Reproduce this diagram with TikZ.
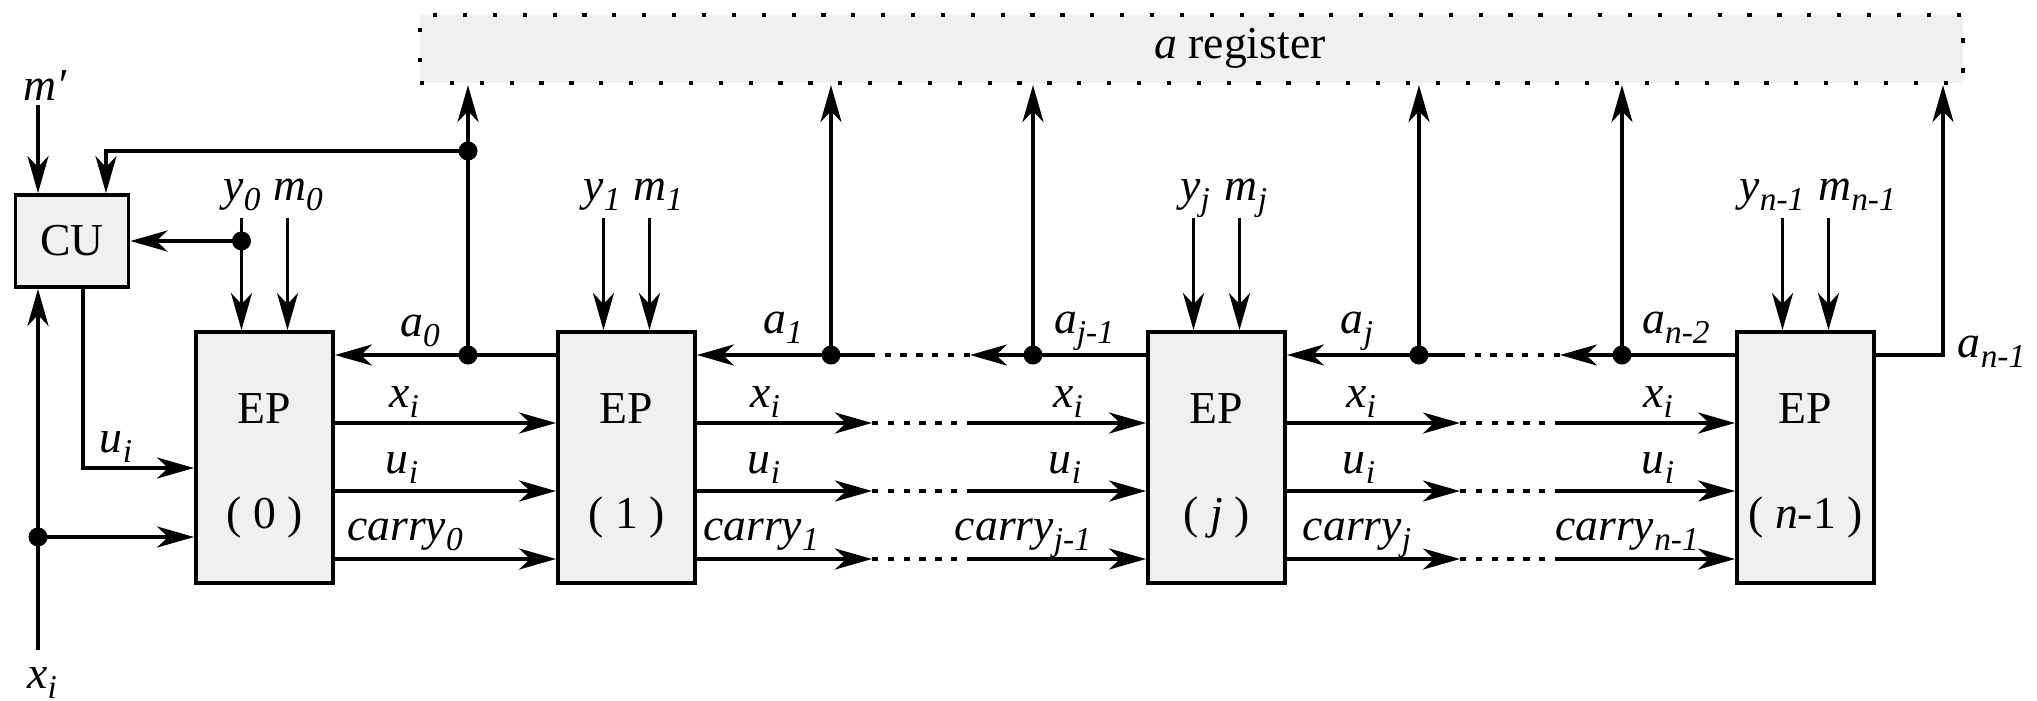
\documentclass[tikz,border=0pt]{standalone}
\usepackage{fontspec}
\setmainfont{LiberationSerif}[Extension=.ttf,UprightFont=*-Regular,BoldFont=*-Bold,
  ItalicFont=*-Italic,BoldItalicFont=*-BoldItalic]
\usepackage{tikz}
\usetikzlibrary{arrows.meta}

\definecolor{epgray}{gray}{0.94}
\newcommand{\sig}[2]{\textit{#1}\raisebox{-0.1cm}{\fontsize{9.5}{10}\selectfont\textit{#2}}}
\newcommand{\eptext}[1]{\rule{0pt}{0.47cm}EP\\[0.49cm]( #1 )}

\begin{document}
\begin{tikzpicture}[->,>={Stealth[length=3.7mm,width=2.1mm,inset=1.1mm]},
                    line width=1.1pt,font=\fontsize{13}{16}\selectfont]

  \tikzstyle{unit}=[draw,fill=epgray,line width=1.1pt,inner sep=0pt]
  \tikzstyle{ep}=[unit,minimum width=1.37cm,minimum height=2.51cm,align=center]
  \tikzstyle{lab}=[anchor=base,inner sep=0pt]
  \tikzstyle{gap}=[-,dash pattern=on 1.8pt off 2.7pt]

  \useasboundingbox (0,0) rectangle (20.37,7);

  \node[unit,line width=1.2pt,dash pattern=on 1.2pt off 7.3pt,
        minimum width=15.43cm,minimum height=0.68cm] (reg) at (11.915,6.51) {};
  \node[lab] (regname) at (12.40,6.42) {\textit{a} register};

  \node[unit,minimum width=1.13cm,minimum height=0.92cm] (cu) at (0.72,4.59) {CU};
  \node[ep] (ep0) at (2.645,2.425) {\eptext{0}};
  \node[ep] (ep1) at (6.265,2.425) {\eptext{1}};
  \node[ep] (epj) at (12.165,2.425) {\eptext{\textit{j}}};
  \node[ep] (epn) at (18.055,2.425) {\eptext{\textit{n}-1}};

  % rows and the ends of the dotted gaps
  \coordinate (ra) at (0,3.45);
  \coordinate (rx) at (0,2.77);
  \coordinate (ru) at (0,2.09);
  \coordinate (rc) at (0,1.41);
  \coordinate (g1) at (8.72,0);
  \coordinate (g2) at (9.70,0);
  \coordinate (g3) at (14.60,0);
  \coordinate (g4) at (15.60,0);

  % taps on the a bus
  \coordinate (t0) at (4.68,3.45);
  \coordinate (t1) at (8.31,3.45);
  \coordinate (t2) at (10.33,3.45);
  \coordinate (t3) at (14.19,3.45);
  \coordinate (t4) at (16.22,3.45);
  \coordinate (t5) at (19.43,3.45);
  \coordinate (f0) at (4.68,5.49);
  \coordinate (fb) at (1.06,5.49);

  % CU inputs and outputs
  \coordinate (j0) at (2.415,4.59);
  \coordinate (mp) at (0.38,5.95);
  \coordinate (xin) at (0.38,0.50);
  \coordinate (j1) at (0.38,1.63);
  \coordinate (ub) at (0.83,2.32);

  \draw (mp) -- (mp |- cu.north);
  \draw (f0) -- (fb) -- (fb |- cu.north);
  \draw (j0) -- (cu.east);
  \draw (xin) -- (xin |- cu.south);
  \draw (j1) -- (ep0.west |- j1);
  \draw (ub |- cu.south) -- (ub) -- (ep0.west |- ub);

  % y and m inputs
  \foreach \e in {ep0,ep1,epj,epn} {
    \draw ([xshift=-0.23cm,yshift=1.12cm]\e.north) -- ([xshift=-0.23cm]\e.north);
    \draw ([xshift=0.23cm,yshift=1.12cm]\e.north) -- ([xshift=0.23cm]\e.north);
  }

  % a bus
  \draw (ep1.west |- ra) -- (ep0.east |- ra);
  \draw (g1 |- ra) -- (ep1.east |- ra);
  \draw[gap] (g2 |- ra) -- (g1 |- ra);
  \draw (epj.west |- ra) -- (g2 |- ra);
  \draw (g3 |- ra) -- (epj.east |- ra);
  \draw[gap] (g4 |- ra) -- (g3 |- ra);
  \draw (epn.west |- ra) -- (g4 |- ra);
  \draw (epn.east |- ra) -- (t5) -- (t5 |- reg.south);
  \foreach \tap in {t0,t1,t2,t3,t4}
    \draw (\tap) -- (\tap |- reg.south);

  % x, u and carry rows
  \foreach \row in {rx,ru,rc} {
    \draw (ep0.east |- \row) -- (ep1.west |- \row);
    \draw (ep1.east |- \row) -- (g1 |- \row);
    \draw[gap] (g1 |- \row) -- (g2 |- \row);
    \draw (g2 |- \row) -- (epj.west |- \row);
    \draw (epj.east |- \row) -- (g3 |- \row);
    \draw[gap] (g3 |- \row) -- (g4 |- \row);
    \draw (g4 |- \row) -- (epn.west |- \row);
  }

  \foreach \jn in {t0,t1,t2,t3,t4,f0,j0,j1}
    \fill (\jn) circle (0.095);

  % labels
  \node[lab] (lmp) at (0.45,6.00) {\textit{m′}};
  \node[lab] (lxin) at (0.42,0.12) {\sig{x}{i}};
  \node[lab] (luin) at (1.16,2.48) {\sig{u}{i}};

  \node[lab] (ly0) at (2.42,5.00) {\sig{y}{0}};
  \node[lab] (lm0) at (2.98,5.00) {\sig{m}{0}};
  \node[lab] (ly1) at (6.02,5.00) {\sig{y}{1}};
  \node[lab] (lm1) at (6.58,5.00) {\sig{m}{1}};
  \node[lab] (lyj) at (11.95,5.00) {\sig{y}{j}};
  \node[lab] (lmj) at (12.46,5.00) {\sig{m}{j}};
  \node[lab] (lyn) at (17.72,5.00) {\sig{y}{n-1}};
  \node[lab] (lmn) at (18.57,5.00) {\sig{m}{n-1}};

  \node[lab] (la0) at (4.20,3.64) {\sig{a}{0}};
  \node[lab] (la1) at (7.83,3.67) {\sig{a}{1}};
  \node[lab] (laj1) at (10.84,3.67) {\sig{a}{j-1}};
  \node[lab] (laj) at (13.57,3.67) {\sig{a}{j}};
  \node[lab] (lan2) at (16.76,3.67) {\sig{a}{n-2}};
  \node[lab,anchor=base west] (lan1) at (19.56,3.43) {\sig{a}{n-1}};

  \node[lab] (lx0) at (4.04,2.93) {\sig{x}{i}};
  \node[lab] (lx1) at (7.65,2.93) {\sig{x}{i}};
  \node[lab] (lxj1) at (10.68,2.93) {\sig{x}{i}};
  \node[lab] (lxj) at (13.61,2.93) {\sig{x}{i}};
  \node[lab] (lxn) at (16.58,2.93) {\sig{x}{i}};

  \node[lab] (lu0) at (4.02,2.27) {\sig{u}{i}};
  \node[lab] (lu1) at (7.64,2.27) {\sig{u}{i}};
  \node[lab] (luj1) at (10.65,2.27) {\sig{u}{i}};
  \node[lab] (luj) at (13.59,2.27) {\sig{u}{i}};
  \node[lab] (lun) at (16.58,2.27) {\sig{u}{i}};

  \node[lab] (lc0) at (4.05,1.60) {\sig{carry}{0}};
  \node[lab] (lc1) at (7.61,1.60) {\sig{carry}{1}};
  \node[lab] (lcj1) at (10.23,1.60) {\sig{carry}{j-1}};
  \node[lab] (lcj) at (13.57,1.60) {\sig{carry}{j}};
  \node[lab] (lcn) at (16.27,1.60) {\sig{carry}{n-1}};
\end{tikzpicture}
\end{document}
